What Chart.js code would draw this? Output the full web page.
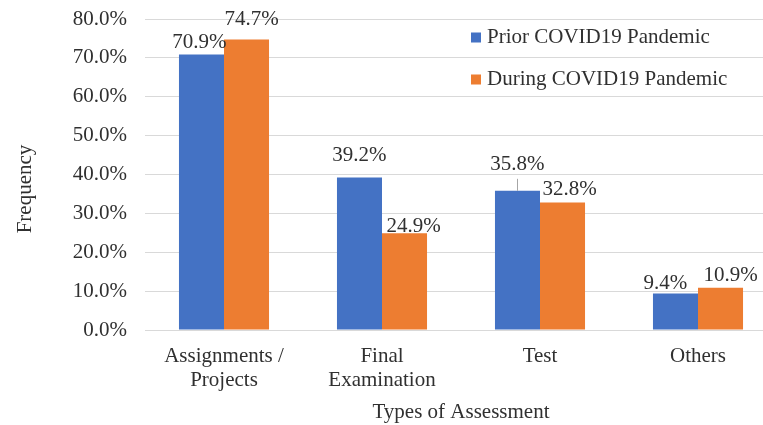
<!DOCTYPE html>
<html lang="en">
  <head>
    <meta charset="UTF-8" />
    <title>Types of Assessment</title>
    <script src="https://cdn.jsdelivr.net/npm/chart.js"></script>
    <style>
      html, body { margin: 0; padding: 0; background: #fff; overflow: hidden; }
      .chart-container { position: relative; width: 780px; height: 425px; }
    </style>
  </head>
  <body>
    <div class="chart-container">
      <canvas id="myChart"></canvas>
    </div>
  </body>
</html>
<script>
  // data
  var categories = [["Assignments /", "Projects"], ["Final", "Examination"], "Test", "Others"];
  var priorValues = [70.9, 39.2, 35.8, 9.4];
  var duringValues = [74.7, 24.9, 32.8, 10.9];
  var seriesNames = ["Prior COVID19 Pandemic", "During COVID19 Pandemic"];
  var yMin = 0, yMax = 80, yStep = 10;

  // label nudges (dx, dy of label centre from bar top), like the hand-moved labels in the original
  var nudgePrior = [[-2, -12], [0, -22], [0, -26], [-10, -10]];
  var nudgeDuring = [[5, -20], [9, -7], [7, -13], [10, -12]];

  var serif = "'Liberation Serif', 'Times New Roman', serif";
  var textColor = "#303030";
  var blue = "#4472C4";
  var orange = "#ED7D31";

  const labelsPlugin = {
    id: "labelsPlugin",
    afterDraw(chart) {
      const ctx = chart.ctx;
      ctx.save();
      ctx.font = "21px " + serif;
      ctx.fillStyle = textColor;
      ctx.textAlign = "center";
      ctx.textBaseline = "middle";
      const nudges = [nudgePrior, nudgeDuring];
      chart.data.datasets.forEach(function (ds, di) {
        const meta = chart.getDatasetMeta(di);
        meta.data.forEach(function (bar, i) {
          const n = nudges[di][i];
          const lx = bar.x + n[0];
          const ly = bar.y + n[1];
          ctx.fillText(ds.data[i].toFixed(1) + "%", lx, ly);
          // leader line only where the label was dragged well away from its bar
          if (bar.y - (ly + 10) > 14) {
            ctx.strokeStyle = "#a6a6a6";
            ctx.lineWidth = 1;
            ctx.beginPath();
            ctx.moveTo(Math.round(lx) + 0.5, ly + 14);
            ctx.lineTo(Math.round(lx) + 0.5, bar.y);
            ctx.stroke();
          }
        });
      });

      // legend inside plot, top right
      const lgX = 471, lgY = [37.5, 79.5];
      chart.data.datasets.forEach(function (ds, di) {
        ctx.fillStyle = ds.backgroundColor;
        ctx.fillRect(lgX, lgY[di] - 5, 10, 10);
        ctx.fillStyle = textColor;
        ctx.textAlign = "left";
        ctx.fillText(ds.label, lgX + 16, lgY[di]);
      });

      // y axis title
      ctx.translate(25, 189);
      ctx.rotate(-Math.PI / 2);
      ctx.textAlign = "center";
      ctx.fillText("Frequency", 0, 0);
      ctx.restore();
    },
  };

  const ctx = document.getElementById("myChart");

  new Chart(ctx, {
    type: "bar",
    data: {
      labels: categories,
      datasets: [
        {
          label: seriesNames[0],
          data: priorValues,
          backgroundColor: blue,
          categoryPercentage: 0.57,
          barPercentage: 1.0,
        },
        {
          label: seriesNames[1],
          data: duringValues,
          backgroundColor: orange,
          categoryPercentage: 0.57,
          barPercentage: 1.0,
        },
      ],
    },
    options: {
      responsive: true,
      maintainAspectRatio: false,
      animation: false,
      layout: {
        padding: { left: 0, right: 3, top: 19, bottom: 0 },
      },
      plugins: {
        legend: { display: false },
        tooltip: { enabled: false },
      },
      scales: {
        x: {
          grid: { display: false, drawTicks: false },
          border: { color: "#d9d9d9" },
          ticks: {
            color: textColor,
            font: { family: serif, size: 21, lineHeight: 1.15 },
            padding: 14,
            maxRotation: 0,
            autoSkip: false,
          },
          title: {
            display: true,
            text: "Types of Assessment",
            color: textColor,
            font: { family: serif, size: 21 },
            padding: { top: 0, bottom: 0 },
          },
          afterFit: function (scale) {
            scale.height = 95;
          },
        },
        y: {
          min: yMin,
          max: yMax,
          grid: { color: "#d9d9d9", drawTicks: false },
          border: { display: false },
          ticks: {
            stepSize: yStep,
            color: textColor,
            font: { family: serif, size: 21, lineHeight: 0.01 },
            padding: 18,
            callback: function (v) {
              return v.toFixed(1) + "%";
            },
          },
          afterFit: function (scale) {
            scale.width = 145;
          },
        },
      },
    },
    plugins: [labelsPlugin],
  });
</script>
